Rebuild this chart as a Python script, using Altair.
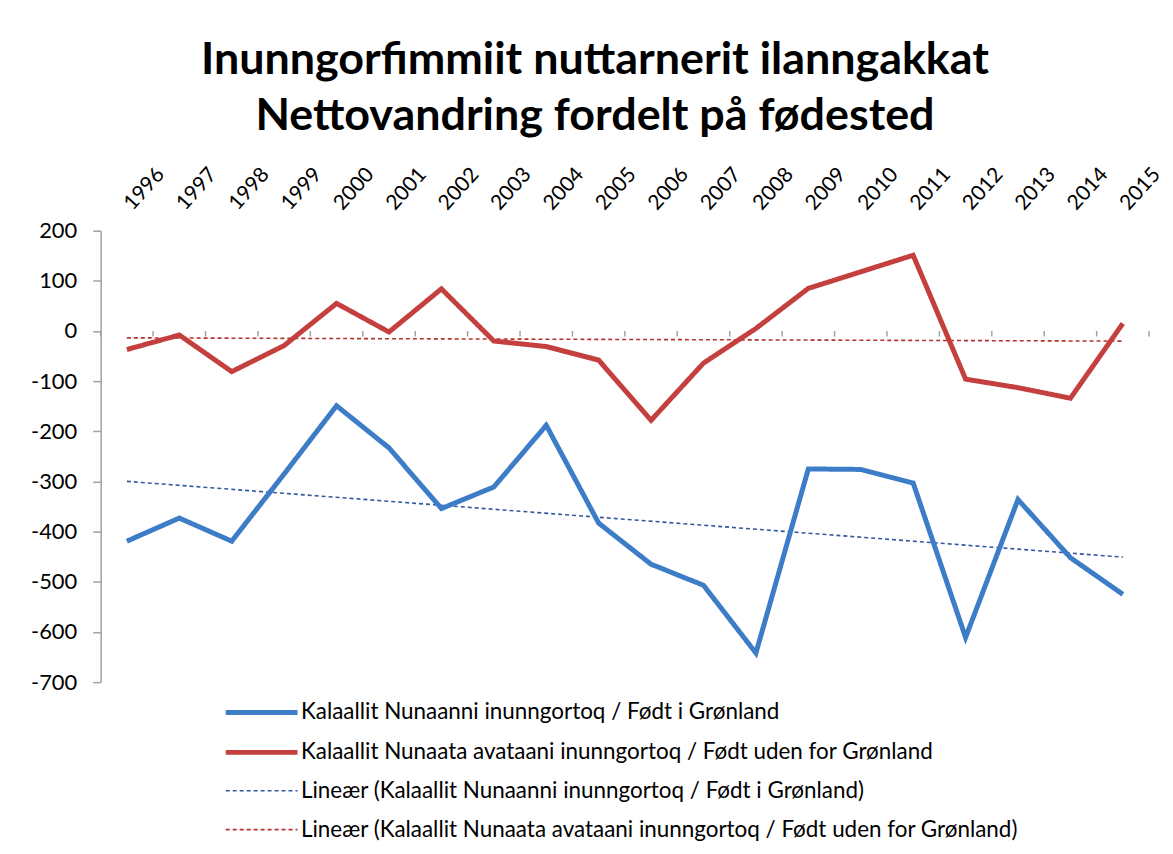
import altair as alt
import pandas as pd

years = list(range(1996, 2016))
born_greenland = [-419, -373, -419, -285, -149, -233, -354, -311, -188, -383,
                  -465, -507, -642, -275, -276, -303, -611, -336, -452, -525]
born_outside = [-37, -8, -81, -29, 55, -2, 84, -20, -31, -58,
                -178, -64, 5, 85, 118, 151, -96, -113, -134, 15]

s1 = "Kalaallit Nunaanni inunngortoq / Født i Grønland"
s2 = "Kalaallit Nunaata avataani inunngortoq / Født uden for Grønland"
t1 = "Lineær (" + s1 + ")"
t2 = "Lineær (" + s2 + ")"
series_names = [s1, s2, t1, t2]
colors = ["#3d7cc7", "#c4403f", "#34589e", "#b5332f"]
dashes = [[1, 0], [1, 0], [4, 3], [4, 3]]
widths = [5, 5, 1.6, 1.6]

title_lines = ["Inunngorfimmiit nuttarnerit ilanngakkat",
               "Nettovandring fordelt på fødested"]
y_ticks = [200, 100, 0, -100, -200, -300, -400, -500, -600, -700]

df = pd.DataFrame({
    "year": years * 2,
    "value": born_greenland + born_outside,
    "series": [s1] * len(years) + [s2] * len(years),
})
bounds = pd.DataFrame({"b": [y - 0.5 for y in years] + [years[-1] + 0.5]})

FONT = "Lato"
GRID = "#a8a09e"

x_scale = alt.Scale(domain=[1995.5, 2015.5], nice=False, zero=False)
y_scale = alt.Scale(domain=[-700, 200], nice=False)

enc_common = dict(
    color=alt.Color("series:N", scale=alt.Scale(domain=series_names, range=colors),
                    legend=alt.Legend(title=None, orient="none", legendX=147, legendY=469,
                                      symbolType="M-3,0H3", symbolSize=576,
                                      labelFontSize=22.5, labelFont=FONT, labelColor="#000",
                                      labelLimit=900, labelOffset=25, rowPadding=14,
                                      padding=0)),
    strokeDash=alt.StrokeDash("series:N", scale=alt.Scale(domain=series_names, range=dashes)),
    strokeWidth=alt.StrokeWidth("series:N",
                                scale=alt.Scale(type="ordinal", domain=series_names, range=widths)),
)

base = alt.Chart(df)

lines = base.mark_line(strokeJoin="miter").encode(
    x=alt.X("year:Q", scale=x_scale,
            axis=alt.Axis(orient="top", values=years, format="d", title=None,
                          labelAngle=-48, labelAlign="left", labelBaseline="middle",
                          labelPadding=24, labelFontSize=21, labelFont=FONT,
                          labelColor="#000", ticks=False, domain=False, grid=False,
                          labelOffset=1)),
    y=alt.Y("value:Q", scale=y_scale,
            axis=alt.Axis(values=y_ticks, title=None, labelFontSize=22, labelFont=FONT,
                          labelColor="#000", tickSize=8, tickColor=GRID, tickWidth=1.5,
                          labelPadding=16, domainColor=GRID, domainWidth=1.5,
                          gridColor=GRID, gridWidth=1.5, gridOpacity=1,
                          labelExpr="'' + datum.value")),
    **enc_common,
)

trend = base.transform_regression(
    "year", "value", groupby=["series"], extent=[1996, 2015]
).transform_calculate(
    series="'Lineær (' + datum.series + ')'"
).mark_line().encode(
    x=alt.X("year:Q", scale=x_scale),
    y=alt.Y("value:Q", scale=y_scale),
    **enc_common,
)

zero_ticks = alt.Chart(bounds).mark_rule(color=GRID, strokeWidth=1.5).encode(
    x=alt.X("b:Q", scale=x_scale),
    y=alt.datum(0),
    y2=alt.datum(-11),
)

chart = alt.layer(zero_ticks, trend, lines).properties(
    width=1052,
    height=453,
    autosize=alt.AutoSizeParams(type="none"),
    padding={"left": 93, "top": 222, "right": 16, "bottom": 160},
    title=alt.TitleParams(text=title_lines, fontSize=45, font=FONT, fontWeight="bold",
                          color="#000", anchor="middle", dx=-30, offset=24,
                          lineHeight=57),
    background="white",
).configure_view(stroke=None)

chart.save("out.html", embed_options={"renderer": "svg", "actions": False})
